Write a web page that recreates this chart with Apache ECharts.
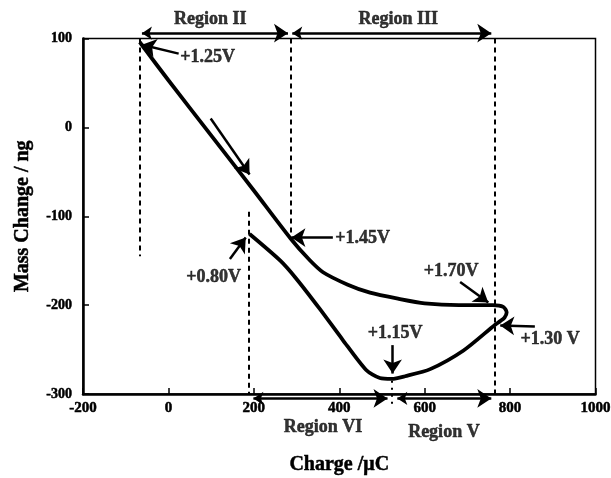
<!DOCTYPE html>
<html>
<head>
<meta charset="utf-8">
<script src="https://cdn.jsdelivr.net/npm/echarts@6/dist/echarts.min.js"></script>
<style>
html,body{margin:0;padding:0;background:#fff;}
#chart{width:611px;height:478px;}
</style>
</head>
<body>
<div id="chart"></div>
<script>
// ---- data ----
const xTicks = [-200, 0, 200, 400, 600, 800, 1000];
const yTicks = [-300, -200, -100, 0, 100];

// Mass change vs charge loop (upper branch then lower branch)
const charge = [-67, -55, 0, 100, 200, 286, 330, 362, 420, 472, 540, 600, 680, 760, 784, 792, 787, 777, 765, 691, 613, 554, 523, 495, 463, 408, 354, 299, 262, 190];
const mass   = [96, 88, 53, -9, -71, -125, -149, -163, -177, -186, -193, -198, -200, -200, -202, -208, -214, -218, -222, -251, -272, -280, -283, -282, -273, -239, -204, -170, -150, -120];

// dashed region dividers [x, yTop, yBottom]
const dividerX      = [-67, 286, 187, 764];
const dividerTop    = [100, 100, -95, 100];
const dividerBottom = [-145, -122, -300, -305];
const dottedDivider = [523, -285, -312];

// region double arrows
const regionNames  = ['Region II', 'Region III', 'Region VI', 'Region V'];
const regionFrom   = [-62, 290, 199, 536];
const regionTo     = [280, 756, 513, 756];
const regionArrowY = [106, 106, -305, -305];
const regionLabelX = [98, 538, 362, 645];
const regionLabelY = [121, 121, -338, -343];

// potential annotations
const annoText  = ['+1.25V', '+1.45V', '+0.80V', '+1.70V', '+1.15V', '+1.30 V'];
const annoTextX = [92, 455, 106, 662, 531, 894];
const annoTextY = [79, -125, -169, -162, -232, -239];
const annoFromX = [24, 385, 144, 683, 525, 858];
const annoFromY = [83, -124, -148, -174, -245, -224];
const annoToX   = [-62, 288, 181, 749, 525, 777];
const annoToY   = [93, -124, -124, -197, -277, -223];

// scan direction arrow
const dirArrow = [99, 10, 190, -53];

// ---- chart ----
const FONT = 'Liberation Serif';
const chart = echarts.init(document.getElementById('chart'));

const dividerLines = dividerX.map((x, i) => ({coords: [[x, dividerTop[i]], [x, dividerBottom[i]]]}));
const regionArrows = regionNames.map((n, i) => ({coords: [[regionFrom[i], regionArrowY[i]], [regionTo[i], regionArrowY[i]]]}));
const annoArrows = annoText.map((t, i) => ({coords: [[annoFromX[i], annoFromY[i]], [annoToX[i], annoToY[i]]]}));
annoArrows.push({coords: [[dirArrow[0], dirArrow[1]], [dirArrow[2], dirArrow[3]]]});

const textData = [];
regionNames.forEach((n, i) => textData.push({value: [regionLabelX[i], regionLabelY[i]], name: n}));
annoText.forEach((n, i) => textData.push({value: [annoTextX[i], annoTextY[i]], name: n}));

const heavy = {fontFamily: FONT, fontWeight: 'bold', color: '#000', textBorderColor: '#000', textBorderWidth: 0.5};

chart.setOption({
  animation: false,
  backgroundColor: '#fff',
  grid: {left: 83, right: 15.5, top: 38.5, bottom: 84, outerBoundsMode: 'none', containLabel: false,
         show: true, borderColor: '#000', borderWidth: 1.5, backgroundColor: 'transparent'},
  xAxis: {
    type: 'value', min: xTicks[0], max: xTicks[xTicks.length - 1], interval: 200,
    name: 'Charge /\u03bcC', nameLocation: 'middle', nameGap: 61,
    nameTextStyle: Object.assign({fontSize: 20}, heavy),
    axisLine: {onZero: false, lineStyle: {color: '#000', width: 2.5}},
    axisTick: {inside: true, length: 6, lineStyle: {color: '#000', width: 1.5}},
    axisLabel: Object.assign({fontSize: 15, margin: 7, formatter: v => String(v)}, heavy),
    splitLine: {show: false}
  },
  yAxis: {
    type: 'value', min: yTicks[0], max: yTicks[yTicks.length - 1], interval: 100,
    name: 'Mass Change / ng', nameLocation: 'middle', nameGap: 50,
    nameTextStyle: Object.assign({fontSize: 20}, heavy),
    axisLine: {onZero: false, lineStyle: {color: '#000', width: 2.5}},
    axisTick: {inside: true, length: 6, lineStyle: {color: '#000', width: 1.5}},
    axisLabel: Object.assign({fontSize: 14, margin: 11}, heavy),
    splitLine: {show: false}
  },
  series: [
    {
      type: 'line', data: charge.map((c, i) => [c, mass[i]]),
      showSymbol: false, smooth: 0.25, clip: false,
      lineStyle: {color: '#000', width: 3.8}
    },
    {
      type: 'lines', coordinateSystem: 'cartesian2d', clip: false, silent: true,
      symbol: ['none', 'none'],
      lineStyle: {color: '#000', width: 2, type: [5, 4], opacity: 1},
      data: dividerLines
    },
    {
      type: 'lines', coordinateSystem: 'cartesian2d', clip: false, silent: true,
      symbol: ['none', 'none'],
      lineStyle: {color: '#000', width: 2, type: [2, 5], opacity: 1},
      data: [{coords: [[dottedDivider[0], dottedDivider[1]], [dottedDivider[0], dottedDivider[2]]]}]
    },
    {
      type: 'lines', coordinateSystem: 'cartesian2d', clip: false, silent: true,
      symbol: ['arrow', 'arrow'], symbolSize: [10, 14],
      lineStyle: {color: '#000', width: 2.5, opacity: 1},
      data: regionArrows
    },
    {
      type: 'lines', coordinateSystem: 'cartesian2d', clip: false, silent: true,
      symbol: ['none', 'arrow'], symbolSize: [10, 14],
      lineStyle: {color: '#000', width: 2.5, opacity: 1},
      data: annoArrows
    },
    {
      type: 'scatter', clip: false, silent: true, symbolSize: 0,
      data: textData,
      label: Object.assign({show: true, position: 'inside', formatter: p => p.name, fontSize: 18}, heavy)
    }
  ]
});
</script>
</body>
</html>
